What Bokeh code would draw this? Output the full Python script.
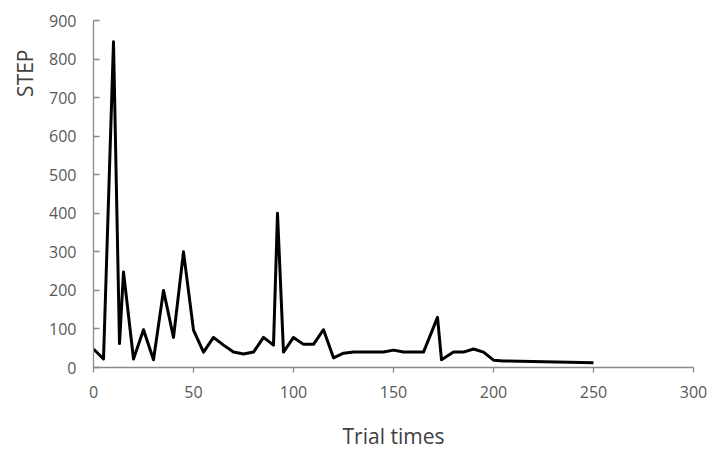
from bokeh.plotting import figure
from bokeh.models import Range1d, FixedTicker, Title
from bokeh.embed import file_html
from bokeh.resources import INLINE

# Data
trial_times = [0, 5, 10, 13, 15, 20, 25, 30, 35, 40, 45, 50, 55, 60, 65, 70, 75,
               80, 85, 90, 92, 95, 100, 105, 110, 115, 120, 125, 130, 135, 140,
               145, 150, 155, 160, 165, 172, 174, 180, 185, 190, 195, 200, 205, 250]
steps = [48, 22, 845, 62, 248, 22, 98, 20, 200, 78, 300, 97, 40, 78, 58, 40, 35,
         40, 78, 58, 400, 40, 78, 60, 60, 98, 25, 37, 40, 40, 40,
         40, 45, 40, 40, 40, 130, 20, 40, 40, 48, 40, 19, 17, 12]

x_ticks = [0, 50, 100, 150, 200, 250, 300]
y_ticks = [0, 100, 200, 300, 400, 500, 600, 700, 800, 900]

FONT = "Open Sans"
AXIS_COLOR = "#898989"
TICK_TEXT = "#595959"
LABEL_TEXT = "#404040"

p = figure(width=713, height=452, output_backend="svg", toolbar_location=None,
           x_range=Range1d(0, 300), y_range=Range1d(0, 900),
           min_border_left=93, min_border_right=20,
           min_border_top=20, min_border_bottom=85)
p.outline_line_color = None
p.xgrid.visible = False
p.ygrid.visible = False
p.background_fill_color = "white"
p.border_fill_color = "white"

p.line(trial_times, steps, line_color="black", line_width=3, line_join="round")

xa = p.xaxis[0]
xa.ticker = FixedTicker(ticks=x_ticks)
xa.minor_tick_line_color = None
xa.major_tick_in = 0
xa.major_tick_out = 5
xa.axis_line_color = AXIS_COLOR
xa.major_tick_line_color = AXIS_COLOR
xa.axis_line_width = 1.3
xa.major_tick_line_width = 1.3
xa.major_label_text_font = FONT
xa.major_label_text_font_size = "16px"
xa.major_label_text_color = TICK_TEXT
xa.major_label_standoff = 13
xa.axis_label = "Trial times"
xa.axis_label_standoff = 21
xa.axis_label_text_font = FONT
xa.axis_label_text_font_size = "21px"
xa.axis_label_text_font_style = "normal"
xa.axis_label_text_color = LABEL_TEXT

ya = p.yaxis[0]
ya.ticker = FixedTicker(ticks=y_ticks)
ya.minor_tick_line_color = None
ya.major_tick_in = 6
ya.major_tick_out = 0
ya.axis_line_color = AXIS_COLOR
ya.major_tick_line_color = AXIS_COLOR
ya.axis_line_width = 1.3
ya.major_tick_line_width = 1.3
ya.major_label_text_font = FONT
ya.major_label_text_font_size = "16px"
ya.major_label_text_color = TICK_TEXT
ya.major_label_standoff = 17

p.add_layout(Title(text="STEP", align="right", offset=29, standoff=16,
                   text_font=FONT, text_font_size="21px", text_font_style="normal",
                   text_color=LABEL_TEXT), "left")

open("out.html", "w").write(file_html(p, INLINE))
